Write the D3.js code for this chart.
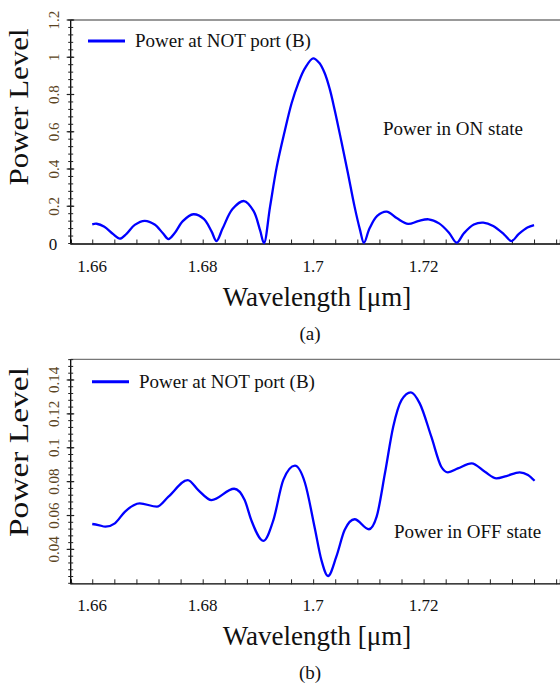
<!DOCTYPE html>
<html>
<head>
<meta charset="utf-8">
<script src="https://cdn.jsdelivr.net/npm/d3@7"></script>
<style>
  body { margin: 0; background: #fff; }
</style>
</head>
<body>
<div id="canvas"></div>
<script>
// --- data
var wlOn = [1.6600, 1.6608, 1.6622, 1.6638, 1.6650, 1.6662, 1.6677, 1.6695, 1.6713, 1.6728,
            1.6738, 1.6749, 1.6764, 1.6783, 1.6802, 1.6816, 1.6825, 1.6836, 1.6854, 1.6875,
            1.6892, 1.6904, 1.6911, 1.6922, 1.6934, 1.6949, 1.6961, 1.6973, 1.6985, 1.7000,
            1.7011, 1.7021, 1.7030, 1.7039, 1.7051, 1.7063, 1.7075, 1.7085, 1.7092, 1.7102,
            1.7116, 1.7133, 1.7152, 1.7172, 1.7190, 1.7209, 1.7228, 1.7246, 1.7260, 1.7273,
            1.7291, 1.7308, 1.7326, 1.7346, 1.7359, 1.7372, 1.7388, 1.7400];
var powOn = [0.103, 0.106, 0.090, 0.050, 0.026, 0.052, 0.100, 0.122, 0.102, 0.055,
             0.024, 0.055, 0.120, 0.157, 0.132, 0.065, 0.013, 0.080, 0.185, 0.228,
             0.175, 0.070, 0.002, 0.198, 0.410, 0.609, 0.753, 0.860, 0.940, 0.994,
             0.970, 0.914, 0.830, 0.717, 0.550, 0.377, 0.198, 0.072, 0.004, 0.080,
             0.148, 0.171, 0.135, 0.105, 0.120, 0.130, 0.108, 0.058, 0.004, 0.055,
             0.102, 0.112, 0.094, 0.048, 0.013, 0.050, 0.086, 0.099];

var wlOff = [1.6600, 1.6611, 1.6624, 1.6641, 1.6659, 1.6686, 1.6717, 1.6738, 1.6773, 1.6792,
             1.6816, 1.6857, 1.6876, 1.6888, 1.6910, 1.6928, 1.6946, 1.6967, 1.6985, 1.7003,
             1.7015, 1.7027, 1.7042, 1.7057, 1.7075, 1.7101, 1.7115, 1.7130, 1.7145, 1.7160,
             1.7177, 1.7193, 1.7214, 1.7232, 1.7244, 1.7262, 1.7287, 1.7311, 1.7332, 1.7350,
             1.7374, 1.7389, 1.7401];
var powOff = [0.0550, 0.0544, 0.0534, 0.0554, 0.0622, 0.0672, 0.0652, 0.0711, 0.0809, 0.0750,
              0.0691, 0.0758, 0.0691, 0.0573, 0.0450, 0.0573, 0.0810, 0.0894, 0.0795, 0.0525,
              0.0337, 0.0243, 0.0357, 0.0514, 0.0578, 0.0519, 0.0593, 0.0849, 0.1124, 0.1281,
              0.1327, 0.1262, 0.1065, 0.0888, 0.0855, 0.0878, 0.0908, 0.0858, 0.0819, 0.0833,
              0.0855, 0.0839, 0.0805];

var xTickLabels = [1.66, 1.68, 1.70, 1.72];
var yTicksOn = [0.2, 0.4, 0.6, 0.8, 1.0, 1.2];
var yTicksOff = [0.04, 0.06, 0.08, 0.1, 0.12, 0.14];

var legendText = 'Power at NOT port (B)';
var xTitle = 'Wavelength [\u03bcm]';
var yTitle = 'Power Level';

var W = 560, H = 686;
var svg = d3.select('#canvas').append('svg')
  .attr('width', W).attr('height', H);

var serif = '"Liberation Serif", "Times New Roman", serif';
var tickCol = '#5a4320';

// --- one panel
function panel(o) {
  var g = svg.append('g');

  var x = d3.scaleLinear().domain([1.6561, 1.7447]).range([70.7, 560]);
  var y = d3.scaleLinear().domain(o.yDom).range([o.bottom, o.top]);

  // top frame line
  g.append('line')
    .attr('x1', 70.7).attr('x2', 560)
    .attr('y1', o.top).attr('y2', o.top)
    .attr('stroke', '#777').attr('stroke-width', 1.3);

  // x axis with minor ticks
  var xt = d3.range(1.656, 1.7445, 0.004);
  var xAxis = d3.axisBottom(x).tickValues(xt).tickSize(-4).tickFormat('');
  var gx = g.append('g').attr('transform', 'translate(0,' + o.bottom + ')').call(xAxis);
  gx.select('.domain').attr('stroke', '#000').attr('stroke-width', 1.3);
  gx.selectAll('.tick line').attr('stroke', '#222').attr('y2', -4).attr('y1', 1);

  g.selectAll('.xlab')
    .data(xTickLabels)
    .enter().append('text')
    .attr('x', function(d) { return x(d); })
    .attr('y', o.bottom + 28)
    .attr('text-anchor', 'middle')
    .attr('font-family', serif)
    .attr('font-size', '17px')
    .attr('fill', '#111')
    .text(function(d) { return String(+d.toFixed(2)); });

  // y axis
  var ya = g.append('g').attr('transform', 'translate(70.7,0)');
  ya.append('line').attr('y1', o.top).attr('y2', o.bottom)
    .attr('stroke', '#000').attr('stroke-width', 1.3);
  var minor = d3.range(o.yDom[0], o.yDom[1] + 1e-9, o.minorStep);
  ya.selectAll('.mn').data(minor).enter().append('line')
    .attr('x1', -2.5).attr('x2', 2.5)
    .attr('y1', function(d) { return y(d); })
    .attr('y2', function(d) { return y(d); })
    .attr('stroke', '#222').attr('stroke-width', 1);
  ya.selectAll('.mj').data(o.yTicks).enter().append('line')
    .attr('x1', -4).attr('x2', 3.5)
    .attr('y1', function(d) { return y(d); })
    .attr('y2', function(d) { return y(d); })
    .attr('stroke', '#222').attr('stroke-width', 1.2);

  g.selectAll('.ylab')
    .data(o.yTicks)
    .enter().append('text')
    .attr('transform', function(d) { return 'translate(59,' + y(d) + ') rotate(-90)'; })
    .attr('text-anchor', 'middle')
    .attr('font-family', serif)
    .attr('font-size', '15px')
    .attr('fill', tickCol)
    .text(function(d) { return String(+d.toFixed(2)); });

  if (o.zeroLabel) {
    g.append('text')
      .attr('x', 53).attr('y', o.bottom + 6)
      .attr('text-anchor', 'middle')
      .attr('font-family', serif).attr('font-size', '17px')
      .attr('fill', '#111').text('0');
  }

  // series
  var pts = o.wl.map(function(d, i) { return [d, o.pw[i]]; });
  var line = d3.line()
    .x(function(d) { return x(d[0]); })
    .y(function(d) { return y(d[1]); })
    .curve(o.curve);
  g.append('path')
    .attr('d', line(pts))
    .attr('fill', 'none')
    .attr('stroke', '#0000ff')
    .attr('stroke-width', 2.3)
    .attr('stroke-linejoin', 'round');

  // legend
  g.append('line')
    .attr('x1', o.legX).attr('x2', o.legX + 37)
    .attr('y1', o.legY).attr('y2', o.legY)
    .attr('stroke', '#0000ff').attr('stroke-width', 3);
  g.append('text')
    .attr('x', o.legX + 47).attr('y', o.legY + 6)
    .attr('font-family', serif).attr('font-size', '19px')
    .attr('fill', '#111').text(legendText);

  // note
  g.append('text')
    .attr('x', o.noteX).attr('y', o.noteY)
    .attr('font-family', serif).attr('font-size', '19px')
    .attr('fill', '#111').text(o.note);

  // titles
  g.append('text')
    .attr('x', 317).attr('y', o.bottom + 62)
    .attr('text-anchor', 'middle')
    .attr('font-family', serif).attr('font-size', '27px')
    .attr('fill', '#111').text(xTitle);
  g.append('text')
    .attr('transform', 'translate(28,' + o.yTitleY + ') rotate(-90)')
    .attr('text-anchor', 'middle')
    .attr('font-family', serif).attr('font-size', '28px')
    .attr('textLength', o.yTitleLen).attr('lengthAdjust', 'spacingAndGlyphs')
    .attr('fill', '#111').text(yTitle);

  g.append('text')
    .attr('x', 310).attr('y', o.bottom + 96)
    .attr('text-anchor', 'middle')
    .attr('font-family', serif).attr('font-size', '19px')
    .attr('fill', '#111').text(o.caption);
}

panel({
  top: 20, bottom: 243.5, yDom: [0, 1.2], minorStep: 0.04,
  yTicks: yTicksOn, zeroLabel: true,
  wl: wlOn, pw: powOn, curve: d3.curveCatmullRom.alpha(0.5),
  legX: 88, legY: 41,
  note: 'Power in ON state', noteX: 383, noteY: 135,
  yTitleY: 107, yTitleLen: 157,
  caption: '(a)'
});

panel({
  top: 359.3, bottom: 583.3, yDom: [0.02, 0.1522], minorStep: 0.004,
  yTicks: yTicksOff, zeroLabel: false,
  wl: wlOff, pw: powOff, curve: d3.curveMonotoneX,
  legX: 92, legY: 381.7,
  note: 'Power in OFF state', noteX: 394, noteY: 538,
  yTitleY: 452, yTitleLen: 170,
  caption: '(b)'
});
</script>
</body>
</html>
